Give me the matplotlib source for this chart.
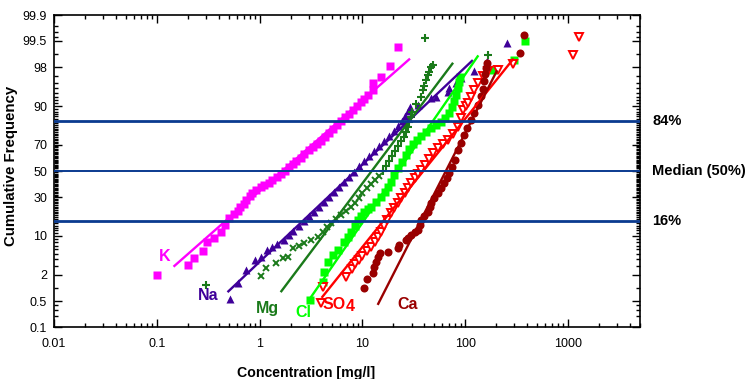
import numpy as np
import matplotlib
matplotlib.use("Agg")
import matplotlib.pyplot as plt
from matplotlib.ticker import FixedLocator, FixedFormatter, NullFormatter, LogLocator
from statistics import NormalDist

# concentrations [mg/l] and cumulative frequency [%]
k_conc = [0.10, 0.20, 0.23, 0.28, 0.31, 0.36, 0.42, 0.46, 0.50, 0.56, 0.61, 0.65, 0.70, 0.74,
          0.80, 0.85, 0.93, 1.02, 1.11, 1.22, 1.33, 1.46, 1.60, 1.75, 1.91, 2.09, 2.28, 2.50,
          2.73, 2.99, 3.27, 3.58, 3.92, 4.28, 4.69, 5.12, 5.60, 6.13, 6.71, 7.34, 8.02, 8.78,
          9.60, 10.3, 11.2, 12.6, 12.6, 15.0, 18.4, 22.0]
k_pct = [2.0, 3.1, 4.3, 5.7, 8.0, 9.2, 11.3, 14.2, 17.6, 19.7, 21.4, 23.8, 25.7, 28.3,
         31.0, 33.2, 35.3, 37.6, 39.1, 40.6, 42.9, 45.3, 47.6, 50.0, 53.2, 55.5, 57.8, 60.2,
         63.2, 66.1, 68.3, 70.4, 72.4, 74.9, 77.4, 79.7, 81.9, 83.9, 85.8, 87.0, 88.6, 90.1,
         91.4, 92.3, 93.4, 94.6, 95.9, 96.9, 98.1, 99.3]

na_conc = [0.51, 0.62, 0.73, 0.91, 1.02, 1.19, 1.33, 1.49, 1.71, 1.91, 2.13, 2.39, 2.67, 2.99,
           3.34, 3.74, 4.19, 4.69, 5.24, 5.86, 6.56, 7.33, 8.20, 9.18, 10.3, 11.5, 12.9, 14.4,
           16.1, 18.0, 20.1, 22.0, 24.1, 25.8, 27.6, 28.8, 34.5, 46.2, 51.7, 67.6, 69.2, 80.9,
           90.5, 121, 162, 254]
na_pct = [0.56, 1.33, 2.5, 3.9, 4.4, 5.9, 6.6, 7.4, 8.6, 10.3, 11.7, 13.8, 16.1, 18.6,
          20.9, 23.8, 27.0, 30.3, 33.9, 37.6, 41.4, 45.3, 49.2, 53.9, 57.8, 61.7, 65.4, 69.0,
          72.4, 75.6, 78.6, 81.4, 83.9, 86.2, 88.3, 89.7, 90.4, 92.6, 92.9, 94.1, 95.0, 95.9,
          96.7, 97.6, 98.5, 99.44]

mg_x_conc = [1.02, 1.14, 1.43, 1.67, 1.87, 2.13, 2.39, 2.67, 3.13, 3.66, 4.09, 4.48, 4.90, 5.48,
             6.13, 6.86, 7.67, 8.39, 9.18, 10.0, 11.0, 12.0, 13.2, 14.4]
mg_x_pct = [1.9, 2.7, 3.4, 4.2, 4.4, 6.4, 6.9, 7.7, 8.6, 9.6, 11.4, 13.4, 15.2, 17.1,
            19.2, 21.4, 23.8, 26.3, 29.6, 33.2, 36.8, 39.8, 42.9, 46.1]
mg_p_conc = [0.30, 15.7, 16.8, 18.0, 19.3, 20.6, 22.0, 23.6, 25.2, 26.4, 27.6, 28.2, 29.5, 30.2,
             33.0, 36.9, 38.6, 39.5, 41.3, 43.2, 44.2, 46.2, 48.3, 40.4, 166]
mg_p_pct = [1.2, 50.0, 53.9, 57.8, 61.7, 65.4, 69.0, 72.4, 74.9, 78.0, 80.8, 83.4, 85.8, 87.9,
            90.8, 92.9, 94.6, 95.4, 96.4, 97.1, 97.5, 98.0, 98.2, 99.58, 98.9]

cl_conc = [3.06, 4.09, 4.19, 4.58, 5.12, 5.73, 6.56, 7.17, 7.67, 8.39, 8.98, 9.60, 10.3, 11.2,
           12.0, 13.4, 15.0, 16.5, 17.6, 18.8, 20.1, 22.0, 24.1, 26.4, 28.2, 30.8, 33.7, 36.9,
           41.3, 46.2, 51.7, 57.8, 63.2, 69.2, 74.0, 77.4, 80.9, 84.7, 86.7, 88.6, 186, 298, 381]
cl_pct = [0.53, 1.4, 2.3, 3.6, 4.8, 5.9, 8.0, 9.6, 11.4, 13.8, 16.6, 18.6, 20.9, 22.6,
          23.8, 27.0, 30.3, 33.9, 37.6, 41.4, 46.8, 52.4, 57.1, 62.4, 66.8, 70.4, 73.0, 75.6,
          78.0, 80.3, 81.9, 83.4, 85.3, 87.5, 89.7, 91.7, 93.4, 95.0, 96.1, 96.9, 97.7, 98.6, 99.5]

so4_conc = [3.92, 4.09, 6.86, 7.85, 8.39, 9.18, 10.0, 11.0, 12.0, 13.2, 14.1, 15.0, 16.1, 17.2,
            18.8, 20.1, 22.0, 23.6, 25.8, 27.6, 29.5, 32.3, 34.5, 36.9, 40.4, 44.2, 48.3, 54.1,
            60.5, 67.6, 75.7, 84.7, 90.5, 94.8, 101, 106, 113, 121, 133, 149, 166, 208, 291,
            1120, 1280]
so4_pct = [0.45, 1.08, 1.8, 2.6, 3.3, 3.9, 4.6, 5.7, 6.6, 8.0, 9.6, 11.4, 13.8, 16.6,
           20.3, 23.2, 26.3, 29.6, 33.2, 36.8, 40.6, 44.5, 47.6, 50.8, 54.7, 59.4, 63.9, 67.6,
           70.4, 73.0, 76.8, 80.8, 85.3, 88.6, 90.1, 91.1, 92.9, 94.6, 95.9, 97.0, 97.6, 97.7, 98.3,
           98.9, 99.6]

ca_conc = [10.3, 11.0, 12.6, 12.9, 13.4, 14.1, 14.7, 17.6, 22.0, 22.5, 26.4, 27.6, 29.5, 32.3,
           34.5, 36.1, 36.9, 39.5, 43.2, 45.2, 46.2, 49.4, 54.1, 57.8, 61.8, 66.2, 69.2, 74.0,
           79.2, 84.7, 90.5, 96.9, 104, 113, 121, 133, 142, 149, 152, 155, 159, 163, 341, 373]
ca_pct = [1.03, 1.6, 2.2, 2.9, 3.6, 4.4, 5.2, 5.4, 6.4, 7.1, 8.6, 9.2, 10.3, 11.4,
          12.1, 14.2, 16.6, 18.6, 20.9, 23.8, 26.3, 29.6, 33.2, 36.8, 40.6, 44.5, 48.4, 53.2,
          58.6, 66.1, 71.0, 76.2, 80.3, 84.4, 87.5, 90.4, 93.1, 94.8, 96.3, 97.3, 97.9, 98.4,
          99.03, 99.65]

# lognormal fit lines: median [mg/l], sd of log10, span in %
fits = {
    "K":   (1.66, 0.558, 2.9, 98.7),
    "Na":  (8.57, 0.519, 0.82, 98.6),
    "Mg":  (12.3, 0.369, 0.82, 98.4),
    "Cl":  (22.3, 0.340, 0.48, 98.9),
    "SO4": (39.1, 0.394, 0.6, 98.7),
    "Ca":  (64.7, 0.250, 0.4, 97.7),
}
colors = {"K": "#FF00FF", "Na": "#3F0099", "Mg": "#1A7A1A", "Cl": "#00FF00",
          "SO4": "#FF0000", "Ca": "#990000"}

ref_pct = [84, 50, 16]
ref_text = ["84%", "Median (50%)", "16%"]

ytick_vals = [0.1, 0.5, 2, 10, 30, 50, 70, 90, 98, 99.5, 99.9]
ytick_labels = ["0.1", "0.5", "2", "10", "30", "50", "70", "90", "98", "99.5", "99.9"]
xtick_vals = [0.01, 0.1, 1, 10, 100, 1000]
xtick_labels = ["0.01", "0.1", "1", "10", "100", "1000"]

nd = NormalDist()
_ppf = np.vectorize(lambda v: nd.inv_cdf(v / 100.0), otypes=[float])
_cdf = np.vectorize(lambda z: 100.0 * nd.cdf(z), otypes=[float])


def prob_fwd(p):
    p = np.clip(np.asarray(p, dtype=float), 1e-5, 100 - 1e-5)
    return _ppf(p)


def prob_inv(z):
    return _cdf(np.asarray(z, dtype=float))


plt.rcParams['font.family'] = ['Liberation Sans', 'DejaVu Sans']

fig = plt.figure(figsize=(7.48, 3.79), dpi=100)
ax = fig.add_axes([0.0722, 0.1372, 0.7834, 0.8232])
ax.set_xscale('log')
ax.set_yscale('function', functions=(prob_fwd, prob_inv))

ms = 5.4
ax.plot(k_conc, k_pct, ls='none', marker='s', ms=ms, color=colors["K"], mec='none')
ax.plot(na_conc, na_pct, ls='none', marker='^', ms=ms + 0.4, color=colors["Na"], mec='none')
ax.plot(mg_x_conc, mg_x_pct, ls='none', marker='x', ms=4.2, mew=1.4, color=colors["Mg"])
ax.plot(mg_p_conc, mg_p_pct, ls='none', marker='+', ms=6, mew=1.5, color=colors["Mg"])
ax.plot(cl_conc, cl_pct, ls='none', marker='s', ms=ms, color=colors["Cl"], mec='none')
ax.plot(so4_conc, so4_pct, ls='none', marker='v', ms=5.6, mfc='white', mec=colors["SO4"], mew=1.4)
ax.plot(ca_conc, ca_pct, ls='none', marker='o', ms=ms + 0.4, color=colors["Ca"], mec='none')

for name, (med, sd, p0, p1) in fits.items():
    pp = np.array([p0, p1])
    cc = med * 10 ** (sd * prob_fwd(pp))
    ax.plot(cc, pp, color=colors[name], lw=1.7, solid_capstyle='butt')

for p, lw in zip(ref_pct, [2.0, 1.4, 2.0]):
    ax.axhline(p, color='#0A3A8F', lw=lw, zorder=5)
for p, t in zip(ref_pct, ref_text):
    ax.text(1.021, p, t, transform=ax.get_yaxis_transform(), ha='left', va='center',
            fontsize=10.5, fontweight='bold')

# element labels
lab_kw = dict(fontsize=11.5, fontweight='bold', ha='center', va='center')
ax.text(0.118, 4.6, "K", color=colors["K"], **lab_kw)
ax.text(0.317, 0.70, "Na", color=colors["Na"], **lab_kw)
ax.text(1.19, 0.33, "Mg", color=colors["Mg"], **lab_kw)
ax.text(2.67, 0.26, "Cl", color=colors["Cl"], **lab_kw)
ax.text(5.3, 0.40, "SO", color=colors["SO4"], **lab_kw)
ax.text(7.6, 0.36, "4", color=colors["SO4"], **lab_kw)
ax.text(27.6, 0.40, "Ca", color=colors["Ca"], **lab_kw)

ax.set_xlim(0.01, 5000)
ax.set_ylim(0.1, 99.9)

ax.xaxis.set_major_locator(FixedLocator(xtick_vals))
ax.xaxis.set_major_formatter(FixedFormatter(xtick_labels))
ax.xaxis.set_minor_locator(LogLocator(base=10, subs=np.arange(2, 10), numticks=20))
ax.xaxis.set_minor_formatter(NullFormatter())

ymin = [0.2, 0.3, 0.4] + list(range(1, 100)) + [99.6, 99.7, 99.8]
ymin = [v for v in ymin if v not in ytick_vals]
ax.yaxis.set_major_locator(FixedLocator(ytick_vals))
ax.yaxis.set_major_formatter(FixedFormatter(ytick_labels))
ax.yaxis.set_minor_locator(FixedLocator(ymin))
ax.yaxis.set_minor_formatter(NullFormatter())

ax.tick_params(which='both', direction='in', top=True, right=True, width=1.0)
ax.tick_params(which='major', length=6, labelsize=9)
ax.tick_params(which='minor', length=3)
ax.tick_params(axis='x', pad=8)
ax.tick_params(axis='y', pad=5)
for s in ax.spines.values():
    s.set_linewidth(1.2)

ax.set_xlabel("Concentration [mg/l]", fontsize=10.2, fontweight='bold')
ax.xaxis.set_label_coords(0.43, -0.125)
ax.set_ylabel("Cumulative Frequency", fontsize=10.8, fontweight='bold')
ax.yaxis.set_label_coords(-0.062, 0.516)

fig.savefig("out.png", dpi=100)
